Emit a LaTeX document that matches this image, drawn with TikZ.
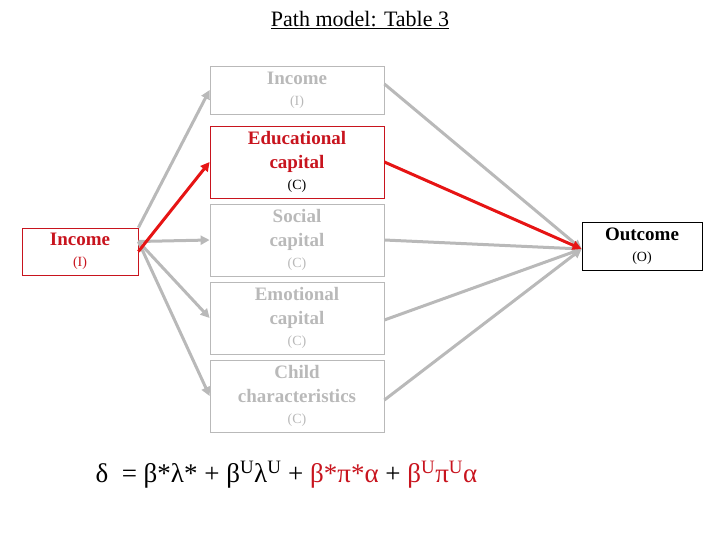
\documentclass[tikz,border=0pt]{standalone}
\usepackage{fontspec}
\setmainfont{Liberation Serif}
\usetikzlibrary{arrows.meta}
\definecolor{gr}{RGB}{185,185,185}
\definecolor{rd}{RGB}{200,20,30}
\definecolor{ar}{RGB}{230,20,20}
\begin{document}
\begin{tikzpicture}[x=1pt,y=-1pt,
 box/.style={draw=gr,line width=0.8pt,minimum width=174pt,align=center,inner sep=0pt,font=\fontsize{19}{24}\selectfont\bfseries,text=gr},
 con/.style={gr,line width=3pt,-{Triangle[length=9pt,width=9pt]}},
 rcon/.style={ar,line width=3pt,-{Triangle[length=9pt,width=9pt]}}]
\useasboundingbox (0,0) rectangle (720,540);
\node[font=\fontsize{22}{26}\selectfont] (t) at (360,20) {\underline{Path model: Table 3}};
\node[box,minimum height=48pt] (i2) at (297,90) {Income\\[-3pt]{\fontsize{14}{15}\selectfont\mdseries (I)}};
\node[box,minimum height=72pt,draw=rd,text=rd] (ec) at (297,162) {Educational\\capital\\[-3pt]{\fontsize{14}{15}\selectfont\mdseries\color{black}(C)}};
\node[box,minimum height=72pt] (so) at (297,240) {Social\\capital\\[-3pt]{\fontsize{14}{15}\selectfont\mdseries (C)}};
\node[box,minimum height=72pt] (em) at (297,318) {Emotional\\capital\\[-3pt]{\fontsize{14}{15}\selectfont\mdseries (C)}};
\node[box,minimum height=72pt] (ch) at (297,396) {Child\\characteristics\\[-3pt]{\fontsize{14}{15}\selectfont\mdseries (C)}};
\node[box,minimum width=116pt,minimum height=47pt,draw=rd,text=rd] (L) at (80,251.5) {Income\\[-3pt]{\fontsize{14}{15}\selectfont\mdseries (I)}};
\node[box,minimum width=120pt,minimum height=48pt,draw=black,text=black] (O) at (642,246) {Outcome\\[-3pt]{\fontsize{14}{15}\selectfont\mdseries (O)}};
\coordinate (Lb) at ([yshift=10pt]L.east);
\coordinate (Oin) at ([yshift=-3pt]O.west);
\draw[con] (L.north east) -- (i2.west);
\draw[con] (Lb) -- (so.west);
\draw[con] (Lb) -- (em.west);
\draw[con] (Lb) -- (ch.west);
\draw[rcon] (L.east) -- (ec.west);
\draw[con] ([yshift=6pt]i2.east) -- (Oin);
\draw[con] (so.east) -- (Oin);
\draw[con] ([yshift=-2pt]em.east) -- (Oin);
\draw[con] ([yshift=-4pt]ch.east) -- (Oin);
\draw[rcon] (ec.east) -- (Oin);
\node[anchor=west,font=\fontsize{27}{30}\selectfont] (f) at (92,475) {δ\enspace = β*λ* + β\textsuperscript{U}λ\textsuperscript{U} + \textcolor{rd}{β*π*α} + \textcolor{rd}{β\textsuperscript{U}π\textsuperscript{U}α}};
\end{tikzpicture}
\end{document}
